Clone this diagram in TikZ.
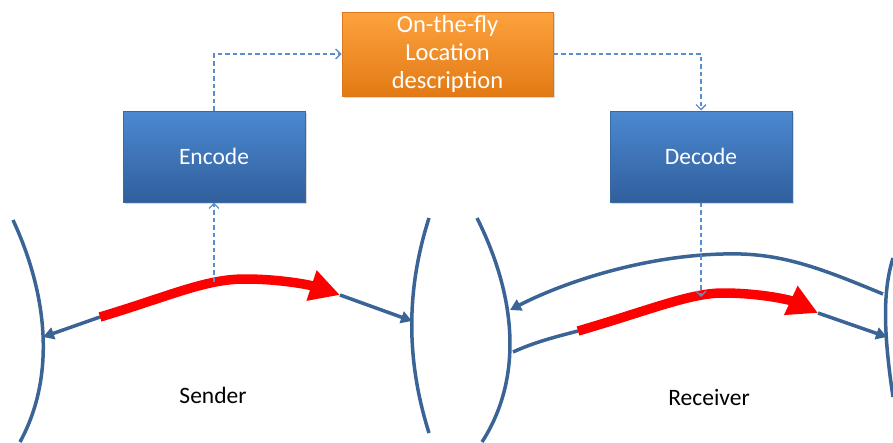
\documentclass[tikz,border=0pt]{standalone}
\usepackage{fontspec}
\setmainfont{Carlito}
\usetikzlibrary{arrows.meta,shadows}
\definecolor{curveblue}{HTML}{3A6396}
\definecolor{dashblue}{HTML}{5B8ED0}
\definecolor{boxtop}{HTML}{4C89D2}
\definecolor{boxbot}{HTML}{305F9C}
\definecolor{boxedge}{HTML}{3A68A0}
\definecolor{ortop}{HTML}{FDA23E}
\definecolor{orbot}{HTML}{E27A14}
\definecolor{oredge}{HTML}{D9781E}
\definecolor{redpath}{HTML}{FF0000}
\tikzset{
  bluebox/.style={rectangle,draw=boxedge,line width=1pt,top color=boxtop,bottom color=boxbot,
    minimum width=182pt,minimum height=91pt,text=white,font=\fontsize{23.5}{28}\selectfont,
    drop shadow={shadow xshift=1.5pt,shadow yshift=-2pt,opacity=0.3}},
  orbox/.style={rectangle,draw=oredge,line width=1pt,top color=ortop,bottom color=orbot,
    minimum width=211pt,minimum height=84pt,text=white,align=center,inner sep=0pt,
    font=\fontsize{24.5}{28}\selectfont,
    drop shadow={shadow xshift=1.5pt,shadow yshift=-2pt,opacity=0.3}},
  dashlink/.style={draw=dashblue,line width=1.5pt,dash pattern=on 4.5pt off 3pt,
    -{Straight Barb[length=5pt,width=10pt,line width=1.3pt]}},
  road/.style={draw=curveblue,line width=3.5pt,line cap=butt},
  roadarrow/.style={road,-{Triangle[length=11pt,width=12pt]}},
  redroute/.style={draw=redpath,line width=9.5pt,-{Triangle[length=30pt,width=30pt]}},
  lbl/.style={font=\fontsize{23.5}{28}\selectfont,text=black}
}
\begin{document}
\begin{tikzpicture}[x=1pt,y=-1pt]
\useasboundingbox (0,0) rectangle (893,442);
% boxes
\node[orbox] (loc) at (447.5,54) {On-the-fly\\Location\\description};
\node[bluebox] (enc) at (214,156.5) {Encode};
\node[bluebox] (dec) at (701,156.5) {Decode};
% coordinates
\coordinate (sA) at (100,317);
\coordinate (sPk) at (245,279);
\coordinate (sB) at (340,295);
\coordinate (sL) at (43,337);
\coordinate (sR) at (412,321);
\coordinate (sTap) at (214,282);
\coordinate (rA) at (578,331);
\coordinate (rB) at (818,313);
\coordinate (rS) at (513,352);
\coordinate (rR) at (887,337);
\coordinate (rUpS) at (883,294);
\coordinate (rUpE) at (510,310);
\coordinate (rTap) at (701,297);
% boundary curves
\draw[road] (13,220) .. controls (50,300) and (54,380) .. (20,442);
\draw[road] (429,218) .. controls (406,290) and (406,360) .. (429,433);
\draw[road] (477,218) .. controls (518,300) and (522,380) .. (482,442);
\draw[road] (893,258) .. controls (883,290) and (883,330) .. (893,397);
% sender route
\draw[roadarrow] (sA) -- (sL);
\draw[roadarrow] (sB) -- (sR);
\draw[redroute] (sA) .. controls (170,296) and (205,279) .. (sPk) .. controls (280,279) and (310,285) .. (sB);
% receiver routes
\draw[roadarrow] (rUpS) .. controls (820,268) and (780,252) .. (723,254) .. controls (640,256) and (560,284) .. (rUpE);
\draw[road] (rS) .. controls (535,342) and (555,337) .. (rA);
\draw[roadarrow] (rB) -- (rR);
\draw[redroute] (rA) .. controls (650,310) and (690,293) .. (723,293) .. controls (760,293) and (790,300) .. (rB);
% dashed links
\draw[dashlink] (enc.north) |- (loc.west);
\draw[dashlink] (loc.east) -| (dec.north);
\draw[dashlink] (sTap) -- (enc.south);
\draw[dashlink] (dec.south) -- (rTap);
% labels
\node[lbl] (snd) at (213,395) {Sender};
\node[lbl] (rcv) at (709,397) {Receiver};
\end{tikzpicture}
\end{document}
